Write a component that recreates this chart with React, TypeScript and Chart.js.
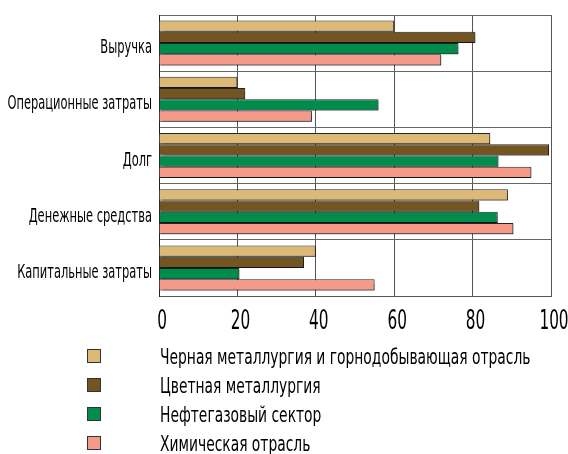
import { useEffect, useRef } from "react";
import { Chart, registerables } from "chart.js";
Chart.register(...registerables);

const categories = [
  "Выручка",
  "Операционные затраты",
  "Долг",
  "Денежные средства",
  "Капитальные затраты",
];
const seriesNames = [
  "Черная металлургия и горнодобывающая отрасль",
  "Цветная металлургия",
  "Нефтегазовый сектор",
  "Химическая отрасль",
];
const ferrous = [60, 20, 84.5, 89, 40];
const nonFerrous = [80.7, 22, 99.5, 81.7, 37];
const oilGas = [76.4, 56, 86.6, 86.4, 20.5];
const chemical = [72, 39, 95, 90.4, 55];
const xMin = 0;
const xMax = 100;
const xStep = 20;

const colors = ["#DDB977", "#735522", "#008C4A", "#F59A88"];
const FONT = '"DejaVu Sans Condensed", "DejaVu Sans", sans-serif';

function condensedText(ctx: any, text: string, x: number, y: number, k: number) {
  ctx.save();
  ctx.translate(x, y);
  ctx.scale(k, 1);
  ctx.fillText(text, 0, 0);
  ctx.restore();
}

const shadowPlugin = {
  id: "barShadow",
  beforeDatasetsDraw(chart: any) {
    const ctx = chart.ctx;
    ctx.save();
    ctx.shadowColor = "rgba(0,0,0,0.35)";
    ctx.shadowOffsetX = 1.5;
    ctx.shadowOffsetY = 1.5;
    ctx.shadowBlur = 1;
  },
  afterDatasetsDraw(chart: any) {
    chart.ctx.restore();
  },
};

const textPlugin = {
  id: "condensedLabels",
  afterDraw(chart: any) {
    const ctx = chart.ctx;
    const xs = chart.scales.x;
    const ys = chart.scales.y;
    ctx.save();
    ctx.fillStyle = "#000";
    ctx.textBaseline = "alphabetic";

    // category labels
    ctx.font = `19px ${FONT}`;
    ctx.textAlign = "right";
    ys.ticks.forEach((t: any, i: number) => {
      const py = ys.getPixelForTick(i);
      condensedText(ctx, ys.getLabelForValue(t.value), 152, py + 10, 0.67);
    });

    // value ticks
    ctx.font = `27px ${FONT}`;
    ctx.textAlign = "center";
    xs.ticks.forEach((t: any, i: number) => {
      const px = xs.getPixelForTick(i);
      condensedText(ctx, String(t.value), px + 3, chart.chartArea.bottom + 33, 0.63);
    });

    // legend
    ctx.font = `22px ${FONT}`;
    ctx.textAlign = "left";
    chart.data.datasets.forEach((ds: any, i: number) => {
      const base = 364 + i * 29;
      ctx.fillStyle = ds.backgroundColor;
      ctx.fillRect(87, base - 15, 14, 14);
      ctx.strokeStyle = "#333";
      ctx.lineWidth = 1;
      ctx.strokeRect(87.5, base - 14.5, 13, 13);
      ctx.fillStyle = "#000";
      condensedText(ctx, ds.label, 160, base, 0.7);
    });
    ctx.restore();
  },
};

export default function App() {
  const ref = useRef<HTMLCanvasElement>(null);
  useEffect(() => {
    if (!ref.current) return;
    const data = [ferrous, nonFerrous, oilGas, chemical];
    const chart = new Chart(ref.current, {
      type: "bar",
      data: {
        labels: categories,
        datasets: data.map((d, i) => ({
          label: seriesNames[i],
          data: d,
          backgroundColor: colors[i],
          borderColor: "#222",
          borderWidth: 1,
          categoryPercentage: 0.8,
          barPercentage: 1.0,
        })),
      },
      options: {
        indexAxis: "y",
        animation: false,
        responsive: false,
        maintainAspectRatio: false,
        layout: { padding: { top: 15, right: 17, left: 0, bottom: 0 } },
        plugins: { legend: { display: false }, tooltip: { enabled: false } },
        scales: {
          x: {
            min: xMin,
            max: xMax,
            ticks: { stepSize: xStep, display: false },
            grid: { color: "#555", drawTicks: false, lineWidth: 1 },
            border: { color: "#555" },
            afterFit: (s: any) => {
              s.height = 158;
              s.paddingLeft = 0;
              s.paddingRight = 0;
            },
          },
          y: {
            ticks: { display: false },
            grid: { color: "#666", drawTicks: false, offset: true },
            border: { color: "#222" },
            afterFit: (s: any) => {
              s.width = 159;
              s.paddingTop = 0;
              s.paddingBottom = 0;
            },
          },
        },
      },
      plugins: [shadowPlugin, textPlugin],
    });
    return () => chart.destroy();
  }, []);
  return (
    <div style={{ position: "fixed", left: 0, top: 0, width: 568, height: 454, background: "#fff" }}>
      <canvas ref={ref} width={568} height={454} style={{ width: 568, height: 454 }} />
    </div>
  );
}
